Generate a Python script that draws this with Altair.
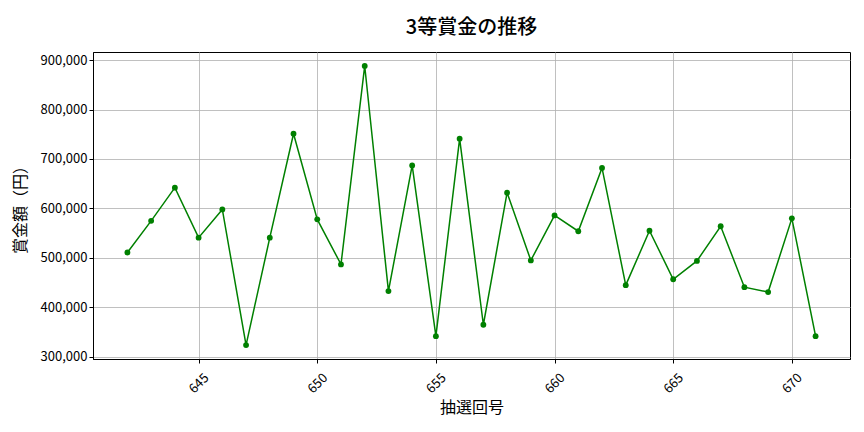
import altair as alt
import pandas as pd

draws = list(range(642, 672))
prizes = [511000, 575000, 642000, 541000, 598000, 324000, 541000, 751000, 578000, 487000,
          888000, 433000, 687000, 342000, 741000, 365000, 632000, 495000, 586000, 554000,
          682000, 445000, 555000, 457000, 494000, 564000, 441000, 431000, 580000, 342000]
x_ticks = [645, 650, 655, 660, 665, 670]
y_ticks = [300000, 400000, 500000, 600000, 700000, 800000, 900000]

df = pd.DataFrame({"draw": draws, "prize": prizes})
FONT = "Noto Sans CJK JP"
GREEN = "#008000"

base = alt.Chart(df).encode(
    x=alt.X("draw:Q", scale=alt.Scale(domain=[640.55, 672.45], nice=False, zero=False),
            axis=alt.Axis(values=x_ticks, format="d", title="抽選回号", labelAngle=315,
                          labelAlign="center", labelBaseline="middle", labelPadding=20,
                          titlePadding=4)),
    y=alt.Y("prize:Q", scale=alt.Scale(domain=[295800, 916200], nice=False, zero=False),
            axis=alt.Axis(values=y_ticks, format=",.0f", title="賞金額（円）", titlePadding=12)),
)

line = base.mark_line(color=GREEN, strokeWidth=1.5)
pts = base.mark_point(filled=True, color=GREEN, size=34, opacity=1)

chart = (line + pts).properties(
    width=757, height=307,
    title=alt.Title("3等賞金の推移", fontSize=20, font=FONT, fontWeight=500, offset=14),
    autosize=alt.AutoSizeParams(type="none"),
    padding={"left": 85, "top": 44, "right": 6, "bottom": 60},
).configure_view(stroke="black", strokeWidth=1).configure_axis(
    labelFont=FONT, titleFont=FONT, labelFontSize=13, titleFontSize=16,
    titleFontWeight="normal", labelColor="black", titleColor="black",
    domainColor="black", tickColor="black", tickSize=4,
    gridColor="#b0b0b0", gridWidth=0.8,
)

chart.save("out.html", embed_options={"renderer": "svg", "actions": False})
